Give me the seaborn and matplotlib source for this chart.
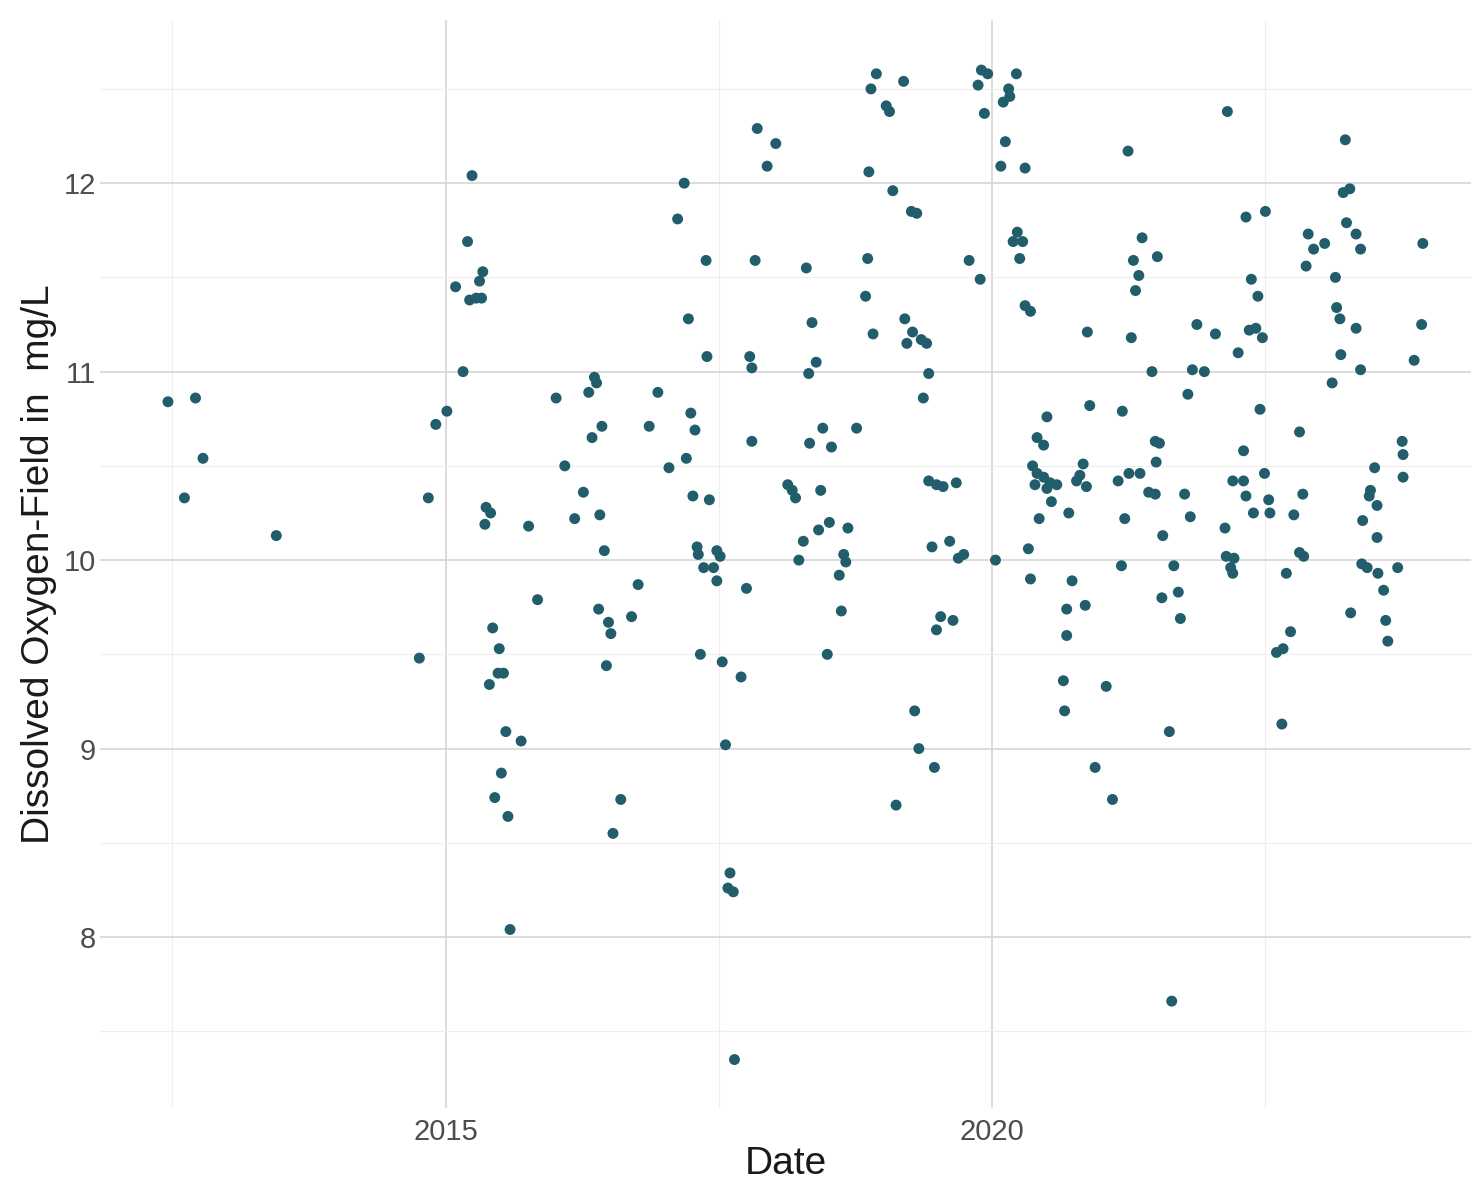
import matplotlib
matplotlib.use("Agg")
import matplotlib.pyplot as plt
import matplotlib.dates as mdates
import matplotlib.ticker as mticker
import seaborn as sns
import pandas as pd

# decimal year of each sample
year_dec = [
    2012.46, 2012.61, 2012.71, 2012.78, 2013.45, 2014.76, 2014.84, 2014.91,
    2015.01, 2015.09, 2015.16, 2015.20, 2015.22, 2015.24, 2015.28, 2015.31,
    2015.33, 2015.34, 2015.36, 2015.37, 2015.40, 2015.41, 2015.43, 2015.45,
    2015.48, 2015.49, 2015.51, 2015.53, 2015.55, 2015.57, 2015.59, 2015.69,
    2015.76, 2015.84, 2016.01, 2016.09, 2016.18, 2016.26, 2016.31, 2016.34,
    2016.36, 2016.38, 2016.40, 2016.41, 2016.43, 2016.45, 2016.47, 2016.49,
    2016.51, 2016.53, 2016.60, 2016.70, 2016.76, 2016.86, 2016.94, 2017.04,
    2017.12, 2017.18, 2017.20, 2017.22, 2017.24, 2017.26, 2017.28, 2017.30,
    2017.31, 2017.33, 2017.36, 2017.38, 2017.39, 2017.41, 2017.45, 2017.48,
    2017.48, 2017.51, 2017.53, 2017.56, 2017.58, 2017.60, 2017.63, 2017.64,
    2017.70, 2017.75, 2017.78, 2017.80, 2017.80, 2017.83, 2017.85, 2017.94,
    2018.02, 2018.13, 2018.17, 2018.20, 2018.23, 2018.27, 2018.30, 2018.32,
    2018.33, 2018.35, 2018.39, 2018.41, 2018.43, 2018.45, 2018.49, 2018.51,
    2018.53, 2018.60, 2018.62, 2018.64, 2018.66, 2018.68, 2018.76, 2018.84,
    2018.86, 2018.87, 2018.89, 2018.91, 2018.94, 2019.03, 2019.06, 2019.09,
    2019.12, 2019.19, 2019.20, 2019.22, 2019.26, 2019.27, 2019.29, 2019.31,
    2019.33, 2019.35, 2019.37, 2019.40, 2019.42, 2019.42, 2019.45, 2019.47,
    2019.49, 2019.49, 2019.53, 2019.55, 2019.61, 2019.64, 2019.67, 2019.69,
    2019.74, 2019.79, 2019.87, 2019.89, 2019.90, 2019.93, 2019.96, 2020.03,
    2020.08, 2020.10, 2020.12, 2020.15, 2020.16, 2020.19, 2020.22, 2020.23,
    2020.25, 2020.28, 2020.30, 2020.30, 2020.33, 2020.35, 2020.35, 2020.37,
    2020.39, 2020.41, 2020.41, 2020.43, 2020.47, 2020.47, 2020.50, 2020.50,
    2020.53, 2020.54, 2020.59, 2020.65, 2020.66, 2020.68, 2020.68, 2020.70,
    2020.73, 2020.77, 2020.80, 2020.83, 2020.85, 2020.86, 2020.87, 2020.89,
    2020.94, 2021.04, 2021.10, 2021.15, 2021.18, 2021.19, 2021.21, 2021.24,
    2021.25, 2021.27, 2021.29, 2021.31, 2021.34, 2021.35, 2021.37, 2021.43,
    2021.46, 2021.49, 2021.49, 2021.50, 2021.51, 2021.53, 2021.55, 2021.56,
    2021.62, 2021.64, 2021.66, 2021.70, 2021.72, 2021.76, 2021.79, 2021.81,
    2021.83, 2021.87, 2021.94, 2022.04, 2022.13, 2022.14, 2022.15, 2022.18,
    2022.20, 2022.20, 2022.21, 2022.25, 2022.30, 2022.30, 2022.32, 2022.32,
    2022.35, 2022.37, 2022.39, 2022.41, 2022.43, 2022.45, 2022.47, 2022.49,
    2022.50, 2022.53, 2022.54, 2022.60, 2022.65, 2022.66, 2022.69, 2022.73,
    2022.76, 2022.81, 2022.81, 2022.84, 2022.85, 2022.87, 2022.89, 2022.94,
    2023.04, 2023.11, 2023.14, 2023.15, 2023.18, 2023.19, 2023.21, 2023.23,
    2023.24, 2023.27, 2023.28, 2023.33, 2023.33, 2023.37, 2023.37, 2023.38,
    2023.39, 2023.43, 2023.45, 2023.46, 2023.50, 2023.52, 2023.52, 2023.53,
    2023.58, 2023.60, 2023.62, 2023.71, 2023.75, 2023.76, 2023.76, 2023.86,
    2023.93, 2023.94,
]

# dissolved oxygen (mg/L) for each sample
do_mgL = [
    10.84, 10.33, 10.86, 10.54, 10.13, 9.48, 10.33, 10.72,
    10.79, 11.45, 11.00, 11.69, 11.38, 12.04, 11.39, 11.48,
    11.39, 11.53, 10.19, 10.28, 9.34, 10.25, 9.64, 8.74,
    9.40, 9.53, 8.87, 9.40, 9.09, 8.64, 8.04, 9.04,
    10.18, 9.79, 10.86, 10.50, 10.22, 10.36, 10.89, 10.65,
    10.97, 10.94, 9.74, 10.24, 10.71, 10.05, 9.44, 9.67,
    9.61, 8.55, 8.73, 9.70, 9.87, 10.71, 10.89, 10.49,
    11.81, 12.00, 10.54, 11.28, 10.78, 10.34, 10.69, 10.07,
    10.03, 9.50, 9.96, 11.59, 11.08, 10.32, 9.96, 10.05,
    9.89, 10.02, 9.46, 9.02, 8.26, 8.34, 8.24, 7.35,
    9.38, 9.85, 11.08, 11.02, 10.63, 11.59, 12.29, 12.09,
    12.21, 10.40, 10.37, 10.33, 10.00, 10.10, 11.55, 10.99,
    10.62, 11.26, 11.05, 10.16, 10.37, 10.70, 9.50, 10.20,
    10.60, 9.92, 9.73, 10.03, 9.99, 10.17, 10.70, 11.40,
    11.60, 12.06, 12.50, 11.20, 12.58, 12.41, 12.38, 11.96,
    8.70, 12.54, 11.28, 11.15, 11.85, 11.21, 9.20, 11.84,
    9.00, 11.17, 10.86, 11.15, 10.99, 10.42, 10.07, 8.90,
    10.40, 9.63, 9.70, 10.39, 10.10, 9.68, 10.41, 10.01,
    10.03, 11.59, 12.52, 11.49, 12.60, 12.37, 12.58, 10.00,
    12.09, 12.43, 12.22, 12.50, 12.46, 11.69, 12.58, 11.74,
    11.60, 11.69, 12.08, 11.35, 10.06, 11.32, 9.90, 10.50,
    10.40, 10.65, 10.46, 10.22, 10.61, 10.44, 10.76, 10.38,
    10.41, 10.31, 10.40, 9.36, 9.20, 9.74, 9.60, 10.25,
    9.89, 10.42, 10.45, 10.51, 9.76, 10.39, 11.21, 10.82,
    8.90, 9.33, 8.73, 10.42, 9.97, 10.79, 10.22, 12.17,
    10.46, 11.18, 11.59, 11.43, 11.51, 10.46, 11.71, 10.36,
    11.00, 10.63, 10.35, 10.52, 11.61, 10.62, 9.80, 10.13,
    9.09, 7.66, 9.97, 9.83, 9.69, 10.35, 10.88, 10.23,
    11.01, 11.25, 11.00, 11.20, 10.17, 10.02, 12.38, 9.96,
    10.42, 9.93, 10.01, 11.10, 10.42, 10.58, 11.82, 10.34,
    11.22, 11.49, 10.25, 11.23, 11.40, 10.80, 11.18, 10.46,
    11.85, 10.32, 10.25, 9.51, 9.13, 9.53, 9.93, 9.62,
    10.24, 10.68, 10.04, 10.35, 10.02, 11.56, 11.73, 11.65,
    11.68, 10.94, 11.50, 11.34, 11.28, 11.09, 11.95, 12.23,
    11.79, 11.97, 9.72, 11.73, 11.23, 11.65, 11.01, 9.98,
    10.21, 9.96, 10.34, 10.37, 10.49, 10.29, 10.12, 9.93,
    9.84, 9.68, 9.57, 9.96, 10.63, 10.56, 10.44, 11.06,
    11.25, 11.68,
]


def to_date(y):
    year = int(y)
    start = pd.Timestamp(year=year, month=1, day=1)
    days = (pd.Timestamp(year=year + 1, month=1, day=1) - start).days
    return start + pd.Timedelta(days=round((y - year) * days))


df = pd.DataFrame({"Date": [to_date(y) for y in year_dec], "DO": do_mgL})

sns.set_theme(style="white")
plt.rcParams["font.family"] = ["Liberation Sans", "DejaVu Sans"]

fig = plt.figure(figsize=(14.71, 11.83), dpi=100)
ax = fig.add_axes([0.068, 0.0634, 0.932, 0.9196])

sns.scatterplot(data=df, x="Date", y="DO", ax=ax, color="#225d6b",
                s=62, edgecolor="none", zorder=3)

# axis ranges
ax.set_xlim(to_date(2011.837), to_date(2024.381))
ax.set_ylim(7.093, 12.865)

# ticks and grid, ggplot minimal look
ax.xaxis.set_major_locator(mdates.YearLocator(5))
ax.xaxis.set_major_formatter(mdates.DateFormatter("%Y"))
minor_x = [mdates.date2num(to_date(y)) for y in (2012.5, 2017.5, 2022.5)]
ax.xaxis.set_minor_locator(mticker.FixedLocator(minor_x))
ax.yaxis.set_major_locator(mticker.MultipleLocator(1))
ax.yaxis.set_minor_locator(mticker.MultipleLocator(0.5))

ax.grid(which="major", color="#d6d6d6", linewidth=1.2, zorder=0)
ax.grid(which="minor", color="#eeeeee", linewidth=0.8, zorder=0)
ax.set_axisbelow(True)
for sp in ax.spines.values():
    sp.set_visible(False)

ax.tick_params(axis="both", which="both", length=0, labelsize=21,
               labelcolor="#4d4d4d")
ax.tick_params(axis="x", pad=7)
ax.tick_params(axis="y", pad=3)

ax.set_xlabel("Date", fontsize=28, color="#1a1a1a", labelpad=0)
ax.set_ylabel("Dissolved Oxygen-Field in  mg/L", fontsize=28,
              color="#1a1a1a", labelpad=5)

fig.savefig("out.png", dpi=100)
